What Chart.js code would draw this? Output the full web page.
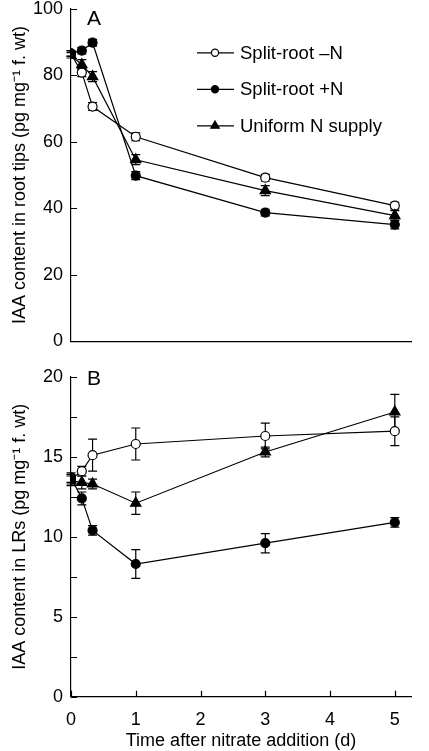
<!DOCTYPE html>
<html>
<head>
<meta charset="utf-8">
<script src="https://cdn.jsdelivr.net/npm/chart.js@4.4.1/dist/chart.umd.min.js"></script>
<style>
  html, body { margin: 0; padding: 0; background: #fff; overflow: hidden; }
  #wrap { position: relative; width: 429px; height: 751px; overflow: hidden; }
  canvas { position: absolute; left: 0; }
  #tips { top: -10px; }
  #lrs { top: 358px; }
</style>
</head>
<body>
<div id="wrap">
  <canvas id="tips" width="429" height="370"></canvas>
  <canvas id="lrs" width="429" height="394"></canvas>
</div>
<script>
// time points (days after nitrate addition)
const days = [0, 0.167, 0.333, 1, 3, 5];
const xTicks = [0, 1, 2, 3, 4, 5];

// panel A: IAA in root tips
const tipsMinusN = [86.5, 80.8, 70.6, 61.5, 49.2, 40.8];
const tipsMinusNErr = [0.8, 1.2, 1.2, 1.2, 1.0, 1.0];
const tipsPlusN = [86.6, 87.4, 89.8, 49.8, 38.7, 35.1];
const tipsPlusNErr = [0.8, 1.0, 1.0, 1.2, 1.0, 1.3];
const tipsUniform = [86.0, 83.2, 79.6, 54.6, 45.3, 37.8];
const tipsUniformErr = [0.8, 1.5, 1.5, 1.5, 1.5, 1.5];
const tipsYTicks = [0, 20, 40, 60, 80, 100];

// panel B: IAA in lateral roots
const lrMinusN = [13.6, 14.1, 15.1, 15.8, 16.3, 16.6];
const lrMinusNErr = [0.3, 0.3, 1.0, 1.0, 0.8, 0.9];
const lrPlusN = [13.7, 12.4, 10.4, 8.3, 9.6, 10.9];
const lrPlusNErr = [0.3, 0.4, 0.3, 0.9, 0.6, 0.3];
const lrUniform = [13.5, 13.4, 13.3, 12.1, 15.3, 17.8];
const lrUniformErr = [0.3, 0.4, 0.3, 0.7, 0.3, 1.1];
const lrYTicks = [0, 5, 10, 15, 20];
const lrYMinor = [2.5, 7.5, 12.5, 17.5];

const seriesNames = ['Split-root \u2013N', 'Split-root +N', 'Uniform N supply'];

const FONT = '"Liberation Sans", Arial, Helvetica, sans-serif';

function pts(xs, ys) {
  return xs.map((x, i) => ({ x, y: ys[i] }));
}

// vertical error bars with caps, drawn under the markers
const errorBars = {
  id: 'errorBars',
  beforeDatasetsDraw(chart) {
    const { ctx, scales } = chart;
    ctx.save();
    ctx.strokeStyle = '#000';
    ctx.lineWidth = 1.2;
    chart.data.datasets.forEach((ds) => {
      if (!ds.errors) return;
      ds.data.forEach((p, i) => {
        const e = ds.errors[i];
        if (!e) return;
        const x = scales.x.getPixelForValue(p.x);
        const y1 = scales.y.getPixelForValue(p.y + e);
        const y2 = scales.y.getPixelForValue(p.y - e);
        ctx.beginPath();
        ctx.moveTo(x, y1); ctx.lineTo(x, y2);
        ctx.moveTo(x - 4.5, y1); ctx.lineTo(x + 4.5, y1);
        ctx.moveTo(x - 4.5, y2); ctx.lineTo(x + 4.5, y2);
        ctx.stroke();
      });
    });
    ctx.restore();
  },
};

// inward tick marks, panel letter and in-plot legend
const decor = {
  id: 'decor',
  afterDraw(chart, args, opts) {
    const { ctx, scales, chartArea } = chart;
    ctx.save();
    ctx.strokeStyle = '#000';
    ctx.lineWidth = 1.2;
    ctx.beginPath();
    (opts.yTicks || []).forEach((v) => {
      const y = Math.round(scales.y.getPixelForValue(v)) + 0.5;
      ctx.moveTo(chartArea.left, y); ctx.lineTo(chartArea.left + 6, y);
    });
    (opts.xTicks || []).forEach((v) => {
      const x = Math.round(scales.x.getPixelForValue(v)) + 0.5;
      ctx.moveTo(x, chartArea.bottom); ctx.lineTo(x, chartArea.bottom - 6);
    });
    ctx.stroke();

    ctx.fillStyle = '#000';
    ctx.font = '21px ' + FONT;
    ctx.textAlign = 'left';
    ctx.textBaseline = 'middle';
    ctx.fillText(opts.letter, chartArea.left + 16, chartArea.top + opts.letterDy);

    if (opts.legend) {
      ctx.font = '18.5px ' + FONT;
      chart.data.datasets.forEach((ds, i) => {
        const y = chartArea.top + 44 + i * 36.5;
        const x0 = chartArea.left + 126;
        ctx.beginPath();
        ctx.lineWidth = 1.2;
        ctx.moveTo(x0, y); ctx.lineTo(x0 + 37, y);
        ctx.stroke();
        ctx.fillStyle = ds.pointBackgroundColor;
        ctx.strokeStyle = '#000';
        Chart.helpers.drawPoint(ctx, {
          pointStyle: ds.pointStyle, radius: ds.pointRadius * 0.8,
          borderWidth: 1.2, rotation: 0,
        }, x0 + 18, y);
        ctx.fillStyle = '#000';
        ctx.fillText(ds.label, x0 + 43, y + 1);
      });
    }
    ctx.restore();
  },
};

function makeDatasets(a, aErr, b, bErr, c, cErr) {
  const base = { borderColor: '#000', borderWidth: 1.2, pointBorderColor: '#000', pointBorderWidth: 1.2, showLine: true, tension: 0 };
  return [
    { ...base, label: seriesNames[0], data: pts(days, a), errors: aErr,
      pointStyle: 'circle', pointRadius: 4.5, pointBackgroundColor: '#fff', order: 3 },
    { ...base, label: seriesNames[1], data: pts(days, b), errors: bErr,
      pointStyle: 'circle', pointRadius: 4.5, pointBackgroundColor: '#000', order: 1 },
    { ...base, label: seriesNames[2], data: pts(days, c), errors: cErr,
      pointStyle: 'triangle', pointRadius: 6, pointBackgroundColor: '#000', order: 2 },
  ];
}

function makeOptions(cfg) {
  const setTicks = (list) => (scale) => {
    scale.ticks = list.map((v) => ({ value: v }));
  };
  return {
    responsive: false,
    animation: false,
    layout: { padding: cfg.padding },
    plugins: {
      legend: { display: false },
      tooltip: { enabled: false },
      decor: { letter: cfg.letter, letterDy: cfg.letterDy, legend: cfg.legend, yTicks: cfg.yInner, xTicks: cfg.xInner },
    },
    scales: {
      x: {
        type: 'linear', min: 0, max: 5.25,
        afterBuildTicks: setTicks(xTicks),
        grid: { display: false, drawTicks: false },
        border: { display: true, color: '#000', width: 1.2 },
        ticks: { display: cfg.xLabels, color: '#000', padding: 12, font: { family: FONT, size: 18 } },
        title: {
          display: cfg.xLabels, text: 'Time after nitrate addition (d)', color: '#000',
          font: { family: FONT, size: 18 }, padding: { top: -12, bottom: 0 },
        },
      },
      y: {
        min: cfg.yMin, max: cfg.yMax,
        afterBuildTicks: setTicks(cfg.yLabels),
        afterFit: (scale) => { scale.width = 67; },
        grid: { display: false, drawTicks: false },
        border: { display: true, color: '#000', width: 1.2 },
        ticks: { color: '#000', padding: 8, font: { family: FONT, size: 18 } },
        title: {
          display: true, text: cfg.yTitle, color: '#000',
          font: { family: FONT, size: 18 },
          padding: { top: 5, bottom: 0 },
        },
      },
    },
  };
}

new Chart(document.getElementById('tips'), {
  type: 'scatter',
  data: { datasets: makeDatasets(tipsMinusN, tipsMinusNErr, tipsPlusN, tipsPlusNErr, tipsUniform, tipsUniformErr) },
  options: makeOptions({
    padding: { top: 0, left: 4, right: 18, bottom: 5 },
    letter: 'A', letterDy: 10, legend: true, xLabels: false,
    yMin: 0, yMax: 100, yLabels: tipsYTicks, yInner: tipsYTicks, xInner: [],
    yTitle: 'IAA content in root tips (pg mg\u207B\u00B9 f. wt)',
  }),
  plugins: [errorBars, decor],
});

new Chart(document.getElementById('lrs'), {
  type: 'scatter',
  data: { datasets: makeDatasets(lrMinusN, lrMinusNErr, lrPlusN, lrPlusNErr, lrUniform, lrUniformErr) },
  options: makeOptions({
    padding: { top: 12, left: 4, right: 18, bottom: 0 },
    letter: 'B', letterDy: 2, legend: false, xLabels: true,
    yMin: 0, yMax: 20, yLabels: lrYTicks, yInner: lrYTicks.concat(lrYMinor), xInner: xTicks,
    yTitle: 'IAA content in LRs (pg mg\u207B\u00B9 f. wt)',
  }),
  plugins: [errorBars, decor],
});
</script>
</body>
</html>
